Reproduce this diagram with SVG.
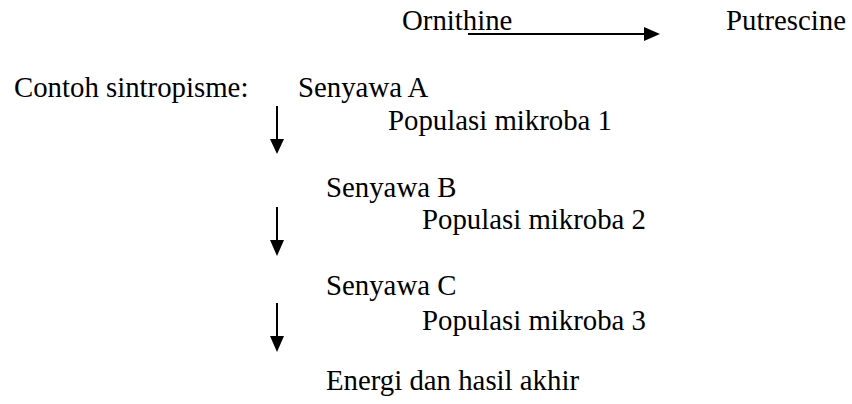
<svg xmlns="http://www.w3.org/2000/svg" width="852" height="404" viewBox="0 0 852 404">
<style>
text{font-family:"Liberation Serif","Times New Roman",serif;font-size:28.8px;fill:#000}
.ln{stroke:#000;stroke-width:2;fill:none}
.hd{fill:#000}
</style>
<rect width="852" height="404" fill="#fff"/>
<g id="ornithine"><text x="402" y="30">Ornithine</text></g>
<g id="putrescine"><text x="726" y="30">Putrescine</text></g>
<g id="title"><text x="14" y="97">Contoh sintropisme:</text></g>
<g id="senyawaA"><text x="298" y="97">Senyawa A</text></g>
<g id="mikroba1"><text x="388" y="130">Populasi mikroba 1</text></g>
<g id="senyawaB"><text x="326" y="197">Senyawa B</text></g>
<g id="mikroba2"><text x="422" y="229">Populasi mikroba 2</text></g>
<g id="senyawaC"><text x="326" y="295">Senyawa C</text></g>
<g id="mikroba3"><text x="422" y="330">Populasi mikroba 3</text></g>
<g id="energi"><text x="326" y="390">Energi dan hasil akhir</text></g>
<g id="connectors">
<line class="ln" x1="468" y1="34" x2="646" y2="34"/>
<polygon class="hd" points="644,27 660,34 644,41"/>
<line class="ln" x1="277" y1="106" x2="277" y2="141"/>
<polygon class="hd" points="270,139 284,139 277,154"/>
<line class="ln" x1="277" y1="207" x2="277" y2="242"/>
<polygon class="hd" points="270,240 284,240 277,256"/>
<line class="ln" x1="277" y1="303" x2="277" y2="338"/>
<polygon class="hd" points="270,336 284,336 277,352"/>
</g>
</svg>
